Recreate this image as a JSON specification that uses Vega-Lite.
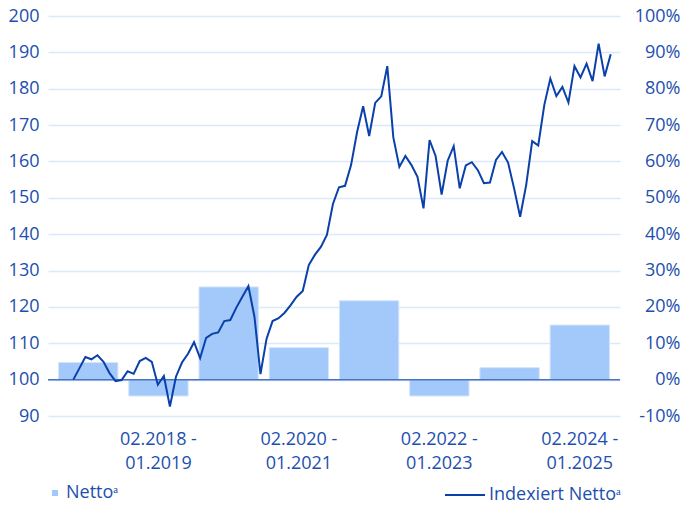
{
  "$schema": "https://vega.github.io/schema/vega-lite/v6.json",
  "width": 572,
  "height": 400,
  "autosize": {"type": "none"},
  "padding": {"left": 48, "top": 16, "right": 64, "bottom": 94},
  "background": "white",
  "config": {
    "font": "Open Sans",
    "view": {"stroke": null},
    "axis": {"labelFont": "Open Sans", "labelFontSize": 18, "labelColor": "#1d4fae", "domain": false, "ticks": false, "tickSize": 0, "title": null, "labelOverlap": false},
    "legend": {"labelFont": "Open Sans", "labelFontSize": 18, "labelColor": "#1d4fae"}
  },
  "datasets": {
    "bars": [
      {"period": "02.2017 - 01.2018", "pct": 0.047},
      {"period": "02.2018 - 01.2019", "pct": -0.045},
      {"period": "02.2019 - 01.2020", "pct": 0.255},
      {"period": "02.2020 - 01.2021", "pct": 0.088},
      {"period": "02.2021 - 01.2022", "pct": 0.217},
      {"period": "02.2022 - 01.2023", "pct": -0.045},
      {"period": "02.2023 - 01.2024", "pct": 0.033},
      {"period": "02.2024 - 01.2025", "pct": 0.15}
    ],
    "line": [
      {"i": 0, "v": 100.0}, {"i": 1, "v": 103.1}, {"i": 2, "v": 106.2}, {"i": 3, "v": 105.6}, {"i": 4, "v": 106.7},
      {"i": 5, "v": 104.9}, {"i": 6, "v": 101.8}, {"i": 7, "v": 99.6}, {"i": 8, "v": 99.9}, {"i": 9, "v": 102.3},
      {"i": 10, "v": 101.6}, {"i": 11, "v": 105.1}, {"i": 12, "v": 106.0}, {"i": 13, "v": 104.9}, {"i": 14, "v": 98.6},
      {"i": 15, "v": 101.0}, {"i": 16, "v": 92.6}, {"i": 17, "v": 100.8}, {"i": 18, "v": 104.7}, {"i": 19, "v": 107.1},
      {"i": 20, "v": 110.3}, {"i": 21, "v": 105.9}, {"i": 22, "v": 111.5}, {"i": 23, "v": 112.6}, {"i": 24, "v": 113.0},
      {"i": 25, "v": 116.1}, {"i": 26, "v": 116.4}, {"i": 27, "v": 119.8}, {"i": 28, "v": 122.8}, {"i": 29, "v": 125.7},
      {"i": 30, "v": 117.3}, {"i": 31, "v": 101.5}, {"i": 32, "v": 111.2}, {"i": 33, "v": 116.1}, {"i": 34, "v": 116.9},
      {"i": 35, "v": 118.4}, {"i": 36, "v": 120.5}, {"i": 37, "v": 122.8}, {"i": 38, "v": 124.4}, {"i": 39, "v": 131.5},
      {"i": 40, "v": 134.3}, {"i": 41, "v": 136.5}, {"i": 42, "v": 139.8}, {"i": 43, "v": 148.3}, {"i": 44, "v": 152.9},
      {"i": 45, "v": 153.3}, {"i": 46, "v": 159.0}, {"i": 47, "v": 168.1}, {"i": 48, "v": 175.2}, {"i": 49, "v": 167.0},
      {"i": 50, "v": 176.1}, {"i": 51, "v": 177.9}, {"i": 52, "v": 186.2}, {"i": 53, "v": 166.6}, {"i": 54, "v": 158.5},
      {"i": 55, "v": 161.5}, {"i": 56, "v": 159.0}, {"i": 57, "v": 155.8}, {"i": 58, "v": 147.1}, {"i": 59, "v": 165.9},
      {"i": 60, "v": 161.5}, {"i": 61, "v": 150.9}, {"i": 62, "v": 160.2}, {"i": 63, "v": 164.2}, {"i": 64, "v": 152.6},
      {"i": 65, "v": 158.9}, {"i": 66, "v": 159.8}, {"i": 67, "v": 157.6}, {"i": 68, "v": 154.0}, {"i": 69, "v": 154.2},
      {"i": 70, "v": 160.4}, {"i": 71, "v": 162.6}, {"i": 72, "v": 159.7}, {"i": 73, "v": 152.6}, {"i": 74, "v": 144.8},
      {"i": 75, "v": 153.5}, {"i": 76, "v": 165.6}, {"i": 77, "v": 164.4}, {"i": 78, "v": 175.5}, {"i": 79, "v": 182.8},
      {"i": 80, "v": 178.0}, {"i": 81, "v": 180.5}, {"i": 82, "v": 176.2}, {"i": 83, "v": 186.2}, {"i": 84, "v": 183.1},
      {"i": 85, "v": 186.9}, {"i": 86, "v": 182.1}, {"i": 87, "v": 192.4}, {"i": 88, "v": 183.4}, {"i": 89, "v": 189.5}
    ]
  },
  "layer": [
    {
      "data": {"name": "bars"},
      "mark": {"type": "bar", "stroke": "#d3e4fb", "strokeWidth": 1},
      "encoding": {
        "x": {
          "field": "period", "type": "nominal", "sort": null,
          "scale": {"paddingInner": 0.155, "paddingOuter": 0.15},
          "axis": {
            "orient": "bottom",
            "values": ["02.2018 - 01.2019", "02.2020 - 01.2021", "02.2022 - 01.2023", "02.2024 - 01.2025"],
            "labelExpr": "[slice(datum.value,0,9), slice(datum.value,10)]",
            "labelAngle": 0, "labelPadding": 14, "labelLineHeight": 24, "labelBaseline": "top"
          }
        },
        "y": {
          "field": "pct", "type": "quantitative",
          "scale": {"domain": [-0.1, 1.0], "nice": false, "zero": false},
          "axis": {"orient": "right", "labelExpr": "replace(format(datum.value, '.0%'), '−', '-')", "values": [-0.1, 0, 0.1, 0.2, 0.3, 0.4, 0.5, 0.6, 0.7, 0.8, 0.9, 1.0], "grid": false, "labelAlign": "right", "labelPadding": 60, "labelOverlap": false}
        },
        "color": {
          "datum": "Nettoᵃ",
          "scale": {"range": ["#a3c9fb"]},
          "legend": {"orient": "none", "legendX": -2, "legendY": 468, "symbolType": "square", "symbolSize": 36, "symbolStrokeWidth": 0, "labelOffset": 2, "title": null}
        }
      }
    },
    {
      "data": {"values": [{"z": 0}]},
      "mark": {"type": "rule", "color": "#4673c4", "strokeWidth": 1.5},
      "encoding": {"y": {"field": "z", "type": "quantitative", "scale": {"domain": [-0.1, 1.0], "nice": false, "zero": false}, "axis": null}}
    },
    {
      "data": {"name": "line"},
      "mark": {"type": "line", "strokeWidth": 2, "strokeJoin": "miter"},
      "encoding": {
        "x": {"field": "i", "type": "quantitative", "scale": {"domain": [-4.19, 90.54], "nice": false, "zero": false}, "axis": null},
        "y": {
          "field": "v", "type": "quantitative",
          "scale": {"domain": [90, 200], "nice": false, "zero": false},
          "axis": {"orient": "left", "values": [90, 100, 110, 120, 130, 140, 150, 160, 170, 180, 190, 200], "grid": true, "gridColor": "#dce9fb", "gridWidth": 1.5, "labelPadding": 9}
        },
        "stroke": {
          "datum": "Indexiert Nettoᵃ",
          "scale": {"range": ["#0a40aa"]},
          "legend": {"orient": "none", "legendX": 396, "legendY": 458, "symbolType": "stroke", "symbolSize": 1600, "symbolStrokeWidth": 2, "labelOffset": 3, "title": null}
        }
      }
    }
  ],
  "resolve": {"scale": {"x": "independent", "y": "independent", "color": "independent"}}
}
